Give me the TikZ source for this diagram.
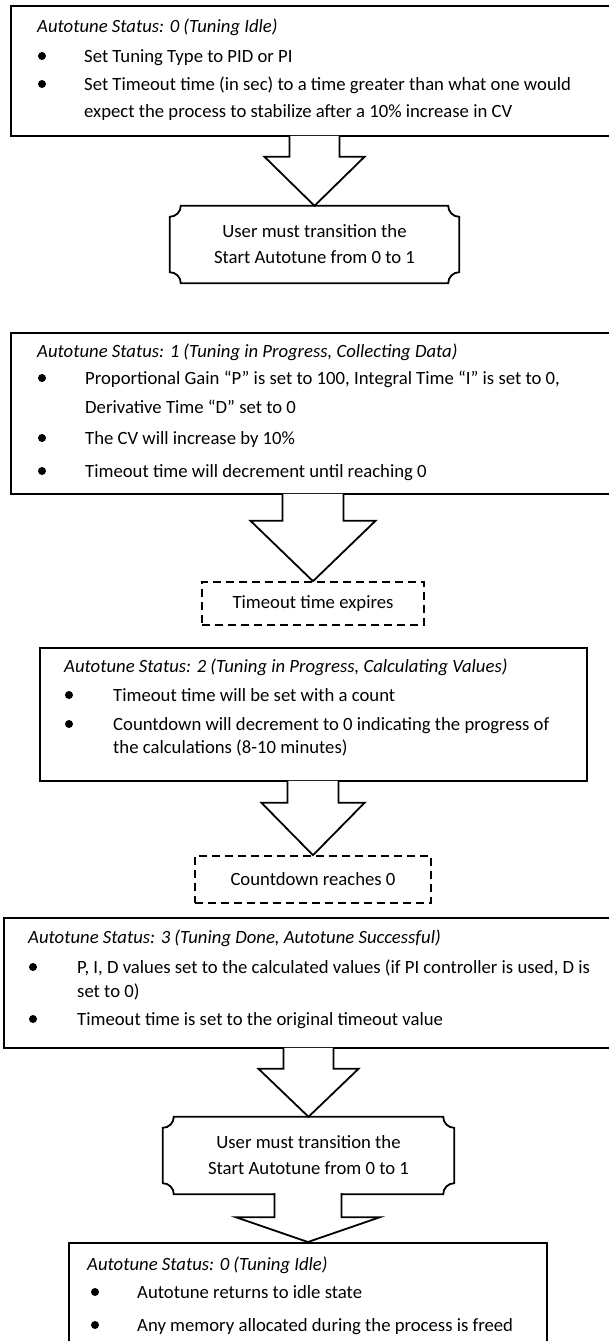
\documentclass[tikz,border=0pt]{standalone}
\usepackage{fontspec}
\setmainfont{Carlito}
\usetikzlibrary{calc}
\newcommand\drawplaque[1]{%
  \draw[line width=1.8pt]
   ($(#1.north west)+(11,0)$) -- ($(#1.north east)+(-11,0)$)
   .. controls ($(#1.north east)+(-11,6.07)$) and ($(#1.north east)+(-6.07,11)$) .. ($(#1.north east)+(0,11)$)
   -- ($(#1.south east)+(0,-11)$)
   .. controls ($(#1.south east)+(-6.07,-11)$) and ($(#1.south east)+(-11,-6.07)$) .. ($(#1.south east)+(-11,0)$)
   -- ($(#1.south west)+(11,0)$)
   .. controls ($(#1.south west)+(11,-6.07)$) and ($(#1.south west)+(6.07,-11)$) .. ($(#1.south west)+(0,-11)$)
   -- ($(#1.north west)+(0,11)$)
   .. controls ($(#1.north west)+(6.07,11)$) and ($(#1.north west)+(11,6.07)$) .. ($(#1.north west)+(11,0)$)
   -- cycle;}
\newcommand\blockarrow[5]{%
  \draw[barrow] ($(#1 -| #2)+(-#3,-1)$) -- ($(#1 -| #2)+(-#3,#5)$) -- ($(#1 -| #2)+(-#4,#5)$)
   -- (#2) -- ($(#1 -| #2)+(#4,#5)$) -- ($(#1 -| #2)+(#3,#5)$) -- ($(#1 -| #2)+(#3,-1)$);}
\begin{document}
\begin{tikzpicture}[x=1pt,y=-1pt,
  every node/.style={font=\fontsize{18.7}{26}\selectfont},
  stbox/.style={draw, line width=1.8pt, inner sep=0pt, anchor=north west},
  txt/.style={anchor=base west, inner sep=0pt},
  ttl/.style={anchor=base west, inner sep=0pt, font=\fontsize{18.7}{26}\selectfont\itshape},
  bul/.style={circle, fill=black, inner sep=0pt, minimum size=8pt},
  dbox/.style={draw, line width=1.6pt, dash pattern=on 8pt off 5pt, inner sep=0pt},
  plq/.style={inner sep=0pt, align=center},
  barrow/.style={line width=1.8pt, fill=white, line join=miter}
]
\useasboundingbox (0,0) rectangle (609,1341);
\clip (0,0) rectangle (609,1341);

% ---- Status 0 box
\node[stbox, minimum width=610pt, minimum height=130pt] (s0) at (10,5) {};
\node[ttl] (t0) at (37,32.5) {Autotune Status: 0 (Tuning Idle)};
\node[bul] (b01) at (42,56) {};
\node[txt] (l01) at (84,62.5) {Set Tuning Type to PID or PI};
\node[bul] (b02) at (42,84) {};
\node[txt] (l02) at (84,90.5) {Set Timeout time (in sec) to a time greater than what one would};
\node[txt] (l03) at (84,117.5) {expect the process to stabilize after a 10\% increase in CV};

% ---- plaque 1
\node[plq, minimum width=289pt, minimum height=77pt] (p1) at (314.5,244.5) {User must transition the\\Start Autotune from 0 to 1};
\drawplaque{p1}

% ---- Status 1 box
\node[stbox, minimum width=610pt, minimum height=161pt] (s1) at (10,332) {};
\node[ttl] (t1) at (37,357.5) {Autotune Status: 1 (Tuning in Progress, Collecting Data)};
\node[bul] (b11) at (42,378) {};
\node[txt] (l11) at (85,384.5) {Proportional Gain “P” is set to 100, Integral Time “I” is set to 0,};
\node[txt] (l12) at (85,413.5) {Derivative Time “D” set to 0};
\node[bul] (b12) at (42,438) {};
\node[txt] (l13) at (85,444.5) {The CV will increase by 10\%};
\node[bul] (b13) at (42,471) {};
\node[txt] (l14) at (85,477.5) {Timeout time will decrement until reaching 0};

% ---- dashed 1
\node[dbox, minimum width=222pt, minimum height=43pt] (d1) at (313,603.5) {Timeout time expires};

% ---- Status 2 box
\node[stbox, minimum width=547pt, minimum height=133pt] (s2) at (39,647) {};
\node[ttl] (t2) at (64,672.5) {Autotune Status: 2 (Tuning in Progress, Calculating Values)};
\node[bul] (b21) at (69,695) {};
\node[txt] (l21) at (113,701.5) {Timeout time will be set with a count};
\node[bul] (b22) at (69,724) {};
\node[txt] (l22) at (113,730.5) {Countdown will decrement to 0 indicating the progress of};
\node[txt] (l23) at (113,753.5) {the calculations (8-10 minutes)};

% ---- dashed 2
\node[dbox, minimum width=236pt, minimum height=47pt] (d2) at (313,879.5) {Countdown reaches 0};

% ---- Status 3 box
\node[stbox, minimum width=617pt, minimum height=130pt] (s3) at (3,917) {};
\node[ttl] (t3) at (28,943.5) {Autotune Status: 3 (Tuning Done, Autotune Successful)};
\node[bul] (b31) at (33,967) {};
\node[txt] (l31) at (77,973.5) {P, I, D values set to the calculated values (if PI controller is used, D is};
\node[txt] (l32) at (77,997.5) {set to 0)};
\node[bul] (b32) at (33,1019) {};
\node[txt] (l33) at (77,1025.5) {Timeout time is set to the original timeout value};

% ---- plaque 2
\node[plq, minimum width=291pt, minimum height=77pt] (p2) at (308.5,1155.5) {User must transition the\\Start Autotune from 0 to 1};
\drawplaque{p2}

% ---- Status 0 box (final)
\node[stbox, minimum width=478pt, minimum height=120pt] (s4) at (68,1242) {};
\node[ttl] (t4) at (87,1270.5) {Autotune Status: 0 (Tuning Idle)};
\node[bul] (b41) at (95,1292) {};
\node[txt] (l41) at (137,1298.5) {Autotune returns to idle state};
\node[bul] (b42) at (95,1325) {};
\node[txt] (l42) at (137,1331.5) {Any memory allocated during the process is freed};

% ---- block arrows
\blockarrow{s0.south}{p1.north}{25}{50}{20}
\blockarrow{s1.south}{d1.north}{30.5}{62.5}{26}
\blockarrow{s2.south}{d2.north}{25.5}{51.5}{21}
\blockarrow{s3.south}{p2.north}{25}{50}{20}
\blockarrow{p2.south}{s4.north}{33.5}{72}{23}
\end{tikzpicture}
\end{document}
